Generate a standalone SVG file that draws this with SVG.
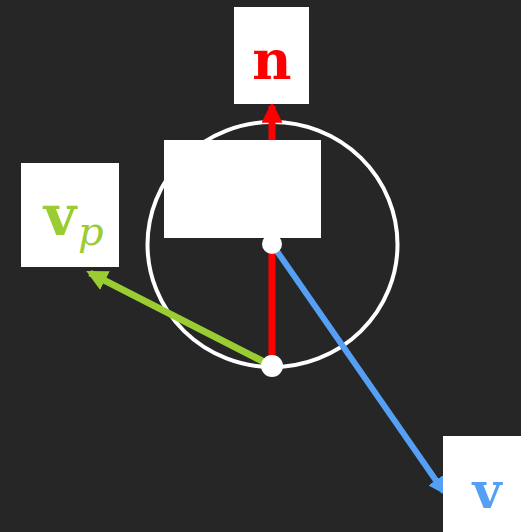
<svg xmlns="http://www.w3.org/2000/svg" width="521" height="532" viewBox="0 0 521 532">
<style>
.box{fill:#ffffff}
.lbl{font-family:"DejaVu Serif","Liberation Serif",serif;font-weight:bold;text-anchor:middle}
.it{font-family:"DejaVu Serif","Liberation Serif",serif;font-style:italic}
</style>
<defs>
<marker id="ar-r" viewBox="0 0 10 10" refX="8" refY="5" markerWidth="3" markerHeight="3" orient="auto" markerUnits="strokeWidth"><path d="M0,0 L10,5 L0,10 z" fill="#ff0000"/></marker>
<marker id="ar-g" viewBox="0 0 10 10" refX="8" refY="5" markerWidth="3" markerHeight="3" orient="auto" markerUnits="strokeWidth"><path d="M0,0 L10,5 L0,10 z" fill="#9acd32"/></marker>
<marker id="ar-b" viewBox="0 0 10 10" refX="8" refY="5" markerWidth="3" markerHeight="3" orient="auto" markerUnits="strokeWidth"><path d="M0,0 L10,5 L0,10 z" fill="#55a0f5"/></marker>
</defs>
<rect width="521" height="532" fill="#262626"/>
<g id="circle"><ellipse cx="272.5" cy="244.5" rx="125" ry="122.5" fill="none" stroke="#ffffff" stroke-width="4"/></g>
<g id="connectors">
<line x1="272" y1="366" x2="272" y2="106" stroke="#ff0000" stroke-width="7" marker-end="url(#ar-r)"/>
<line x1="272" y1="366" x2="90" y2="273" stroke="#9acd32" stroke-width="7" marker-end="url(#ar-g)"/>
<line x1="272" y1="244" x2="444" y2="492" stroke="#55a0f5" stroke-width="6" marker-end="url(#ar-b)"/>
</g>
<g id="node-p"><rect class="box" x="164" y="140" width="157" height="98"/><text class="it" x="246" y="205" font-size="40" fill="#ffffff" text-anchor="middle">p</text></g>
<g id="dot-center"><circle cx="272" cy="244" r="10" fill="#ffffff"/></g>
<g id="dot-bottom"><circle cx="272" cy="366" r="11" fill="#ffffff"/></g>
<g id="node-n"><rect class="box" x="234" y="7" width="75" height="97"/><text class="lbl" x="272" y="79" font-size="54" fill="#ff0000">n</text></g>
<g id="node-vp"><rect class="box" x="21" y="163" width="98" height="104"/><text x="60" y="235" font-size="56" fill="#9acd32" class="lbl">v</text><text class="it" x="78" y="245" font-size="40" fill="#9acd32">p</text></g>
<g id="node-v"><rect class="box" x="443" y="436" width="78" height="96"/><text class="lbl" x="487" y="508" font-size="50" fill="#55a0f5">v</text></g>
</svg>
